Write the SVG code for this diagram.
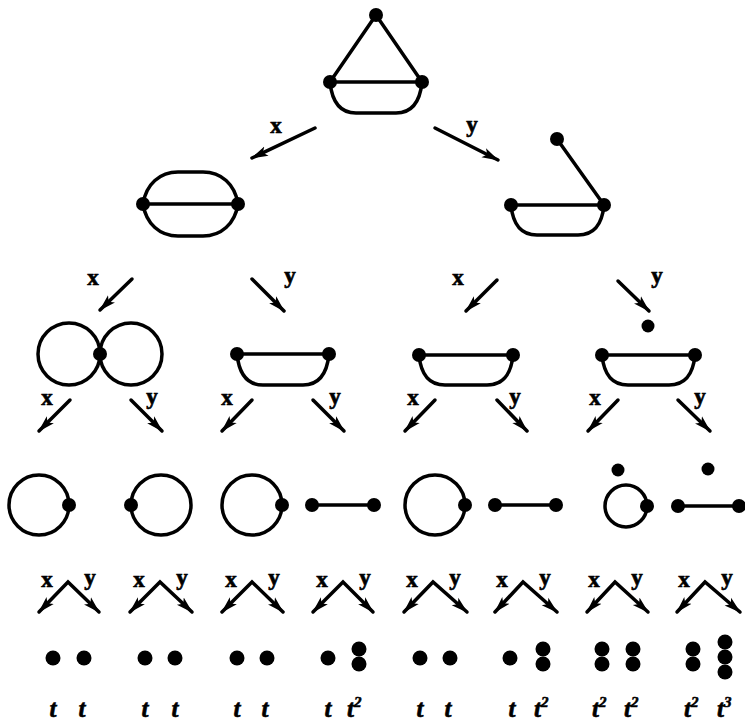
<svg xmlns="http://www.w3.org/2000/svg" width="745" height="721" viewBox="0 0 745 721">
<defs>
<marker id="ah" markerUnits="userSpaceOnUse" markerWidth="18" markerHeight="12" viewBox="0 0 18 12" refX="16" refY="6" orient="auto-start-reverse">
<path d="M0,1 L17,6 L0,11 L4,6 Z" fill="#000"/>
</marker>
</defs>
<style>
.e{fill:none;stroke:#000;stroke-width:3.5;stroke-linecap:round;stroke-linejoin:round}
.d{fill:#000}
.a{fill:none;stroke:#000;stroke-width:3.5;stroke-linecap:round;stroke-linejoin:miter;marker-end:url(#ah)}
.c{fill:none;stroke:#000;stroke-width:3.5;stroke-linecap:round;stroke-linejoin:miter;marker-start:url(#ah);marker-end:url(#ah)}
.l{font-family:"Liberation Serif",serif;font-weight:bold;font-size:23px;text-anchor:middle;stroke:#000;stroke-width:0.7}
.t{font-family:"Liberation Serif",serif;font-weight:bold;font-style:italic;font-size:25px;stroke:#000;stroke-width:0.6}
.s{font-size:15px}
</style>
<rect width="745" height="721" fill="#fff"/>

<g id="n0">
<path class="e" d="M376,15 L330,82 M376,15 L422,82 M330,82 H422 M330,82 C332,102 340,113 356,113 H396 C412,113 420,102 422,82"/>
<circle class="d" cx="376" cy="15" r="7"/><circle class="d" cx="330" cy="82" r="7"/><circle class="d" cx="422" cy="82" r="7"/>
</g>

<g id="n1">
<path class="e" d="M143,204 H238 M143,204 C146,184 160,172 178,172 H203 C221,172 235,184 238,204 M143,204 C146,224 160,236 178,236 H203 C221,236 235,224 238,204"/>
<circle class="d" cx="143" cy="204" r="7"/><circle class="d" cx="238" cy="204" r="7"/>
</g>

<g id="n2">
<path class="e" d="M557,139 L604,205 M511,205 H604 M511,205 C513,225 521,235 537,235 H578 C594,235 602,225 604,205"/>
<circle class="d" cx="557" cy="139" r="7"/><circle class="d" cx="511" cy="205" r="7"/><circle class="d" cx="604" cy="205" r="7"/>
</g>

<g id="n3">
<circle class="e" cx="69" cy="354" r="31"/><circle class="e" cx="131" cy="354" r="31"/>
<circle class="d" cx="100" cy="354" r="7"/>
</g>

<g id="n4">
<path class="e" d="M237,354 H329 M237,354 C239,374 247,385 263,385 H303 C319,385 327,374 329,354"/>
<circle class="d" cx="237" cy="354" r="7"/><circle class="d" cx="329" cy="354" r="7"/>
</g>

<g id="n5">
<path class="e" d="M419,355 H513 M419,355 C421,375 429,385 445,385 H487 C503,385 511,375 513,355"/>
<circle class="d" cx="419" cy="355" r="7"/><circle class="d" cx="513" cy="355" r="7"/>
</g>

<g id="n6">
<circle class="d" cx="648" cy="326" r="6.5"/>
<path class="e" d="M602,355 H695 M602,355 C604,375 612,385 628,385 H669 C685,385 693,375 695,355"/>
<circle class="d" cx="602" cy="355" r="7"/><circle class="d" cx="695" cy="355" r="7"/>
</g>

<g id="n7"><circle class="e" cx="39" cy="505" r="30"/><circle class="d" cx="69" cy="505" r="7"/></g>
<g id="n8"><circle class="e" cx="161" cy="505" r="30"/><circle class="d" cx="131" cy="505" r="7"/></g>
<g id="n9"><circle class="e" cx="252" cy="505" r="30"/><circle class="d" cx="282" cy="505" r="7"/></g>
<g id="n10"><path class="e" d="M312,505 H374"/><circle class="d" cx="312" cy="505" r="7"/><circle class="d" cx="374" cy="505" r="7"/></g>
<g id="n11"><circle class="e" cx="435" cy="505" r="30"/><circle class="d" cx="465" cy="505" r="7"/></g>
<g id="n12"><path class="e" d="M495,505 H556"/><circle class="d" cx="495" cy="505" r="7"/><circle class="d" cx="556" cy="505" r="7"/></g>
<g id="n13"><circle class="d" cx="618" cy="470" r="6.5"/><circle class="e" cx="626" cy="506" r="21"/><circle class="d" cx="647" cy="506" r="7"/></g>
<g id="n14"><circle class="d" cx="708" cy="469" r="6.5"/><path class="e" d="M678,506 H739"/><circle class="d" cx="678" cy="506" r="7"/><circle class="d" cx="739" cy="506" r="7"/></g>

<g id="n15"><circle class="d" cx="53" cy="658" r="7.5"/><circle class="d" cx="84" cy="658" r="7.5"/></g>
<g id="n16"><circle class="d" cx="145" cy="658" r="7.5"/><circle class="d" cx="175" cy="658" r="7.5"/></g>
<g id="n17"><circle class="d" cx="237" cy="658" r="7.5"/><circle class="d" cx="267" cy="658" r="7.5"/></g>
<g id="n18"><circle class="d" cx="328" cy="658" r="7.5"/><circle class="d" cx="359" cy="649" r="7.5"/><circle class="d" cx="359" cy="664" r="7.5"/></g>
<g id="n19"><circle class="d" cx="420" cy="658" r="7.5"/><circle class="d" cx="450" cy="658" r="7.5"/></g>
<g id="n20"><circle class="d" cx="510" cy="658" r="7.5"/><circle class="d" cx="543" cy="649" r="7.5"/><circle class="d" cx="543" cy="664" r="7.5"/></g>
<g id="n21"><circle class="d" cx="602" cy="649" r="7.5"/><circle class="d" cx="602" cy="664" r="7.5"/><circle class="d" cx="633" cy="649" r="7.5"/><circle class="d" cx="633" cy="664" r="7.5"/></g>
<g id="n22"><circle class="d" cx="693" cy="649" r="7.5"/><circle class="d" cx="693" cy="664" r="7.5"/><circle class="d" cx="725" cy="642" r="7.5"/><circle class="d" cx="725" cy="657" r="7.5"/><circle class="d" cx="725" cy="672" r="7.5"/></g>

<g id="weights">
<text class="t" x="53" y="717" text-anchor="middle">t</text>
<text class="t" x="82" y="717" text-anchor="middle">t</text>
<text class="t" x="145" y="717" text-anchor="middle">t</text>
<text class="t" x="175" y="717" text-anchor="middle">t</text>
<text class="t" x="237" y="717" text-anchor="middle">t</text>
<text class="t" x="265" y="717" text-anchor="middle">t</text>
<text class="t" x="328" y="717" text-anchor="middle">t</text>
<text class="t" x="347" y="717">t<tspan class="s" dy="-10">2</tspan></text>
<text class="t" x="420" y="717" text-anchor="middle">t</text>
<text class="t" x="448" y="717" text-anchor="middle">t</text>
<text class="t" x="512" y="717" text-anchor="middle">t</text>
<text class="t" x="534" y="717">t<tspan class="s" dy="-10">2</tspan></text>
<text class="t" x="592" y="717">t<tspan class="s" dy="-10">2</tspan></text>
<text class="t" x="624" y="717">t<tspan class="s" dy="-10">2</tspan></text>
<text class="t" x="684" y="717">t<tspan class="s" dy="-10">2</tspan></text>
<text class="t" x="717" y="717">t<tspan class="s" dy="-10">3</tspan></text>
</g>

<g id="connectors">
<path class="a" d="M315,128 L252,158"/>
<path class="a" d="M435,128 L498,160"/>
<path class="a" d="M132,279 L100,310"/>
<path class="a" d="M252,279 L284,311"/>
<path class="a" d="M497,280 L466,311"/>
<path class="a" d="M618,281 L649,311"/>
<path class="a" d="M70,400 L39,431"/>
<path class="a" d="M131,400 L162,431"/>
<path class="a" d="M252,400 L222,431"/>
<path class="a" d="M313,400 L344,431"/>
<path class="a" d="M435,400 L405,431"/>
<path class="a" d="M497,400 L527,431"/>
<path class="a" d="M618,400 L588,431"/>
<path class="a" d="M678,400 L710,431"/>
<path class="c" d="M39,612 L68,582 L99,612"/>
<path class="c" d="M130,612 L160,582 L192,612"/>
<path class="c" d="M222,612 L252,582 L283,612"/>
<path class="c" d="M313,612 L343,582 L373,612"/>
<path class="c" d="M404,612 L433,582 L467,612"/>
<path class="c" d="M495,612 L523,582 L557,612"/>
<path class="c" d="M587,612 L615,582 L648,612"/>
<path class="c" d="M677,612 L705,582 L740,612"/>
</g>

<g id="labels">
<text class="l" x="276" y="133">x</text>
<text class="l" x="472" y="132">y</text>
<text class="l" x="93" y="285">x</text>
<text class="l" x="290" y="283">y</text>
<text class="l" x="458" y="285">x</text>
<text class="l" x="657" y="283">y</text>
<text class="l" x="47" y="405">x</text>
<text class="l" x="152" y="404">y</text>
<text class="l" x="227" y="405">x</text>
<text class="l" x="335" y="404">y</text>
<text class="l" x="413" y="405">x</text>
<text class="l" x="515" y="404">y</text>
<text class="l" x="595" y="405">x</text>
<text class="l" x="700" y="404">y</text>
<text class="l" x="47" y="587">x</text>
<text class="l" x="90" y="585">y</text>
<text class="l" x="139" y="587">x</text>
<text class="l" x="182" y="585">y</text>
<text class="l" x="231" y="587">x</text>
<text class="l" x="274" y="585">y</text>
<text class="l" x="322" y="587">x</text>
<text class="l" x="365" y="585">y</text>
<text class="l" x="412" y="587">x</text>
<text class="l" x="455" y="585">y</text>
<text class="l" x="502" y="587">x</text>
<text class="l" x="545" y="585">y</text>
<text class="l" x="594" y="587">x</text>
<text class="l" x="637" y="585">y</text>
<text class="l" x="684" y="587">x</text>
<text class="l" x="727" y="585">y</text>
</g>
</svg>
